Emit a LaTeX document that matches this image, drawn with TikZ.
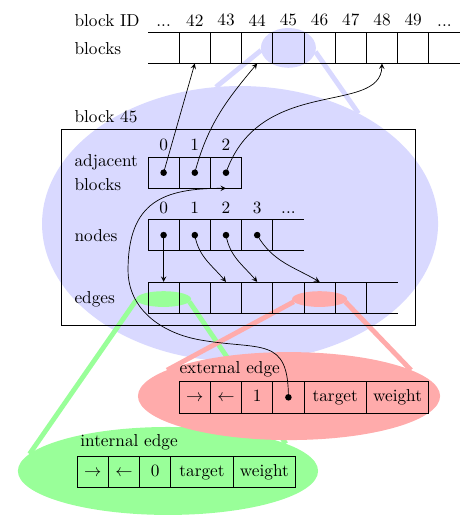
\documentclass[tikz,border=0pt]{standalone}
\usetikzlibrary{shapes.geometric}

\begin{document}
\begin{tikzpicture}[
    x=0.635cm, y=0.635cm,
    cell/.style={draw, minimum width=0.635cm, minimum height=0.635cm, inner sep=0pt, outer sep=0pt,
        text height=1.5ex, text depth=0.3ex},
    widecell/.style={cell, minimum width=1.27cm},
    blob/.style={ellipse, inner sep=0pt, outer sep=0pt},
    link/.style={line width=2.8pt},
    ptr/.style={-stealth},
    lbl/.style={anchor=base west}
]
    \useasboundingbox (-4.744,1.035) rectangle (10.32,-15.696);

    % Zoom on block 45
    \node[blob, fill=blue!15, minimum width=8.06cm, minimum height=5.61cm] (blockview) at (2.95,-6.14) {};
    \node[blob, fill=blue!15, minimum width=1.12cm, minimum height=0.81cm] (blockspot) at (4.5,-0.5) {};
    \draw[link, blue!15] (blockspot.185) -- (blockview.100);
    \draw[link, blue!15] (blockspot.-8) -- (blockview.43);

    % Zoom on an internal edge
    \node[blob, fill=green!40, minimum width=1.12cm, minimum height=0.32cm] (inspot) at (0.5,-8.55) {};
    \node[blob, fill=green!40, minimum width=6.11cm, minimum height=1.79cm] (inview) at (0.64,-14.06) {};
    \draw[link, green!40] (inspot.182) -- (inview.173);
    \draw[link, green!40] (inspot.-6) -- (inview.13);

    % Zoom on an external edge
    \node[blob, fill=red!33, minimum width=1.12cm, minimum height=0.32cm] (exspot) at (5.5,-8.55) {};
    \node[blob, fill=red!33, minimum width=6.15cm, minimum height=1.79cm] (exview) at (4.52,-11.66) {};
    \draw[link, red!33] (exspot.186) -- (exview.168);
    \draw[link, red!33] (exspot.-6) -- (exview.12);

    % Block array
    \node[lbl] (idlabel) at (-2.55,0.18) {block ID};
    \node[lbl] (blockslabel) at (-2.55,-0.72) {blocks};
    \draw (0,0) -- (10,0) (0,-1) -- (10,-1);
    \node[above] (idleft) at (0.5,0) {...};
    \foreach \id [count=\x] in {42,...,49} {
        \node[cell] (b\id) at (\x+0.5,-0.5) {};
        \node[above] (id\id) at (\x+0.5,0) {\id};
    }
    \node[above] (idright) at (9.5,0) {...};

    % Block 45
    \node[lbl] (block45label) at (-2.55,-2.88) {block 45};
    \draw (-2.77,-3.11) rectangle (8.56,-9.38);

    % Adjacent blocks
    \node[lbl] (adjlabel) at (-2.55,-4.3) {adjacent};
    \node[lbl] (adjlabel2) at (-2.55,-5.07) {blocks};
    \foreach \x in {0,1,2} {
        \node[cell] (a\x) at (\x+0.5,-4.5) {};
        \node[above] (alabel\x) at (\x+0.5,-4) {\x};
    }

    % Nodes
    \node[lbl] (nodeslabel) at (-2.55,-6.72) {nodes};
    \foreach \x in {0,...,3} {
        \node[cell] (n\x) at (\x+0.5,-6.5) {};
        \node[above] (nlabel\x) at (\x+0.5,-6) {\x};
    }
    \node[above] (nlabeldots) at (4.5,-6) {...};
    \draw (n3.north east) -- ++(1,0) (n3.south east) -- ++(1,0);

    % Edges
    \node[lbl] (edgeslabel) at (-2.55,-8.7) {edges};
    \foreach \x in {0,...,6}
        \node[cell] (e\x) at (\x+0.5,-8.5) {};
    \draw (e6.north east) -- ++(1,0) (e6.south east) -- ++(1,0);

    % External edge
    \node[anchor=base west, inner sep=0pt] (exlabel) at (1,-10.94) {external edge};
    \node[cell] (x0) at (1.5,-11.7) {$\rightarrow$};
    \node[cell] (x1) at (2.5,-11.7) {$\leftarrow$};
    \node[cell] (x2) at (3.5,-11.7) {1};
    \node[cell] (x3) at (4.5,-11.7) {};
    \node[widecell] (x4) at (6,-11.7) {target};
    \node[widecell] (x5) at (8,-11.7) {weight};

    % Internal edge
    \node[anchor=base west, inner sep=0pt] (inlabel) at (-2.18,-13.29) {internal edge};
    \node[cell] (i0) at (-1.77,-14.1) {$\rightarrow$};
    \node[cell] (i1) at (-0.77,-14.1) {$\leftarrow$};
    \node[cell] (i2) at (0.23,-14.1) {0};
    \node[widecell] (i3) at (1.73,-14.1) {target};
    \node[widecell] (i4) at (3.73,-14.1) {weight};

    % Pointers
    \foreach \c in {a0,a1,a2,n0,n1,n2,n3,x3}
        \fill (\c) circle (1.9pt);
    \draw[ptr] (a0.center) -- (b42.south);
    \draw[ptr] (a1.center) to[out=75,in=-130] (b44.south);
    \draw[ptr] (a2.center) .. controls +(1.09,3.13) and +(-0.06,-1.67) .. (b48.south);
    \draw[ptr] (n0.center) -- (e0.north);
    \draw[ptr] (n1.center) to[out=-80,in=130] (e2.north);
    \draw[ptr] (n2.center) to[out=-80,in=130] (e3.north);
    \draw[ptr] (n3.center) to[out=-60,in=150] (e5.north);

    % Back pointer of the external edge
    \coordinate (sweep) at (1.67,-9.86);
    \coordinate (turn) at (-0.64,-7.62);
    \draw[ptr] (x3.center) to[out=90,in=-10,looseness=1.5] (sweep)
        to[out=170,in=-90] (turn) .. controls +(0,2.2) and +(-2,0) .. (a2.south);
\end{tikzpicture}
\end{document}
